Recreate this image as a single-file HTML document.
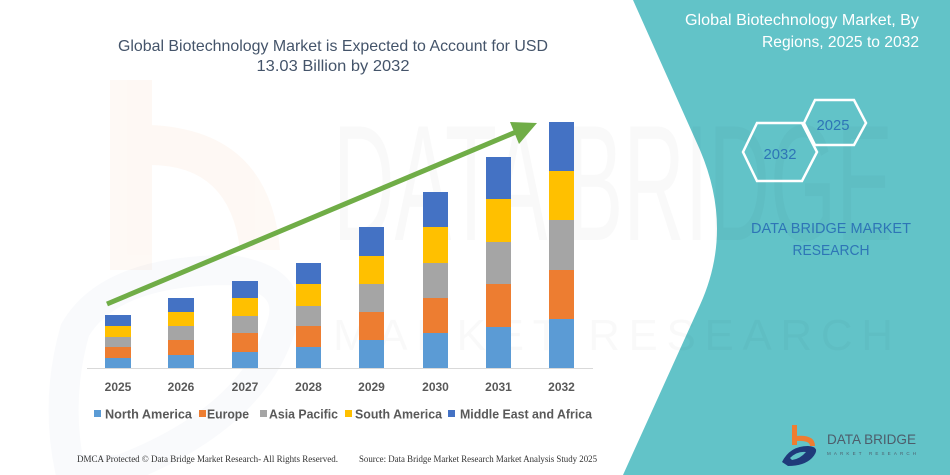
<!DOCTYPE html>
<html>
<head>
<meta charset="utf-8">
<style>
html,body{margin:0;padding:0;background:#fff;}
svg{display:block;}
text{font-family:"Liberation Sans",sans-serif;}
</style>
</head>
<body>
<svg width="950" height="475" viewBox="0 0 950 475" xmlns="http://www.w3.org/2000/svg">
  <rect x="0" y="0" width="950" height="475" fill="#ffffff"/>

  <!-- faint watermark logo (orange b + blue swoosh) -->
  <g opacity="0.05">
    <rect x="110" y="80" width="42" height="190" fill="#f08a3a"/>
    <path d="M150,125 Q270,130 280,250 L240,250 Q230,165 150,165 Z" fill="#f08a3a"/>
  </g>
  <g opacity="0.035">
    <path d="M75,330 Q110,270 230,270 Q300,280 280,330 Q250,420 120,470 L70,470 Q55,400 75,330 Z" fill="none" stroke="#4a78b8" stroke-width="30"/>
  </g>

  <!-- teal panel -->
  <path d="M633,0 L700,150 Q734,230 700,305 L623,475 L950,475 L950,0 Z" fill="#62c3c8"/>

  <!-- faint big watermark text -->
  <text x="333" y="240" font-size="165" fill="#000" opacity="0.02" textLength="560" lengthAdjust="spacingAndGlyphs">DATA BRIDGE</text>
  <text x="333" y="350" font-size="44" fill="#000" opacity="0.018" textLength="560" lengthAdjust="spacing">MARKET RESEARCH</text>

  <!-- main title -->
  <text x="333" y="51" font-size="16" fill="#44546a" text-anchor="middle" textLength="430" lengthAdjust="spacingAndGlyphs">Global Biotechnology Market is Expected to Account for USD</text>
  <text x="333" y="71" font-size="16" fill="#44546a" text-anchor="middle" textLength="153" lengthAdjust="spacingAndGlyphs">13.03 Billion by 2032</text>

  <!-- axis line -->
  <line x1="87" y1="368.5" x2="593" y2="368.5" stroke="#d9d9d9" stroke-width="1"/>

  <!-- bars: NA, EU, AP, SA, MEA -->
  <g>
    <rect x="105" y="358" width="26" height="10" fill="#5b9bd5"/>
    <rect x="105" y="347" width="26" height="11" fill="#ed7d31"/>
    <rect x="105" y="337" width="26" height="10" fill="#a5a5a5"/>
    <rect x="105" y="326" width="26" height="11" fill="#ffc000"/>
    <rect x="105" y="315" width="26" height="11" fill="#4472c4"/>

    <rect x="168" y="355" width="26" height="13" fill="#5b9bd5"/>
    <rect x="168" y="340" width="26" height="15" fill="#ed7d31"/>
    <rect x="168" y="326" width="26" height="14" fill="#a5a5a5"/>
    <rect x="168" y="312" width="26" height="14" fill="#ffc000"/>
    <rect x="168" y="298" width="26" height="14" fill="#4472c4"/>

    <rect x="232" y="352" width="26" height="16" fill="#5b9bd5"/>
    <rect x="232" y="333" width="26" height="19" fill="#ed7d31"/>
    <rect x="232" y="316" width="26" height="17" fill="#a5a5a5"/>
    <rect x="232" y="298" width="26" height="18" fill="#ffc000"/>
    <rect x="232" y="281" width="26" height="17" fill="#4472c4"/>

    <rect x="296" y="347" width="25" height="21" fill="#5b9bd5"/>
    <rect x="296" y="326" width="25" height="21" fill="#ed7d31"/>
    <rect x="296" y="306" width="25" height="20" fill="#a5a5a5"/>
    <rect x="296" y="284" width="25" height="22" fill="#ffc000"/>
    <rect x="296" y="263" width="25" height="21" fill="#4472c4"/>

    <rect x="359" y="340" width="25" height="28" fill="#5b9bd5"/>
    <rect x="359" y="312" width="25" height="28" fill="#ed7d31"/>
    <rect x="359" y="284" width="25" height="28" fill="#a5a5a5"/>
    <rect x="359" y="256" width="25" height="28" fill="#ffc000"/>
    <rect x="359" y="227" width="25" height="29" fill="#4472c4"/>

    <rect x="423" y="333" width="25" height="35" fill="#5b9bd5"/>
    <rect x="423" y="298" width="25" height="35" fill="#ed7d31"/>
    <rect x="423" y="263" width="25" height="35" fill="#a5a5a5"/>
    <rect x="423" y="227" width="25" height="36" fill="#ffc000"/>
    <rect x="423" y="192" width="25" height="35" fill="#4472c4"/>

    <rect x="486" y="327" width="25" height="41" fill="#5b9bd5"/>
    <rect x="486" y="284" width="25" height="43" fill="#ed7d31"/>
    <rect x="486" y="242" width="25" height="42" fill="#a5a5a5"/>
    <rect x="486" y="199" width="25" height="43" fill="#ffc000"/>
    <rect x="486" y="157" width="25" height="42" fill="#4472c4"/>

    <rect x="549" y="319" width="25" height="49" fill="#5b9bd5"/>
    <rect x="549" y="270" width="25" height="49" fill="#ed7d31"/>
    <rect x="549" y="220" width="25" height="50" fill="#a5a5a5"/>
    <rect x="549" y="171" width="25" height="49" fill="#ffc000"/>
    <rect x="549" y="122" width="25" height="49" fill="#4472c4"/>
  </g>

  <!-- green arrow -->
  <line x1="107" y1="304" x2="516" y2="132" stroke="#70ad47" stroke-width="5"/>
  <polygon points="537,123 510,122 519,144" fill="#70ad47"/>

  <!-- year labels -->
  <g font-size="12" font-weight="bold" fill="#595959" text-anchor="middle">
    <text x="118" y="391">2025</text>
    <text x="181" y="391">2026</text>
    <text x="245" y="391">2027</text>
    <text x="308.5" y="391">2028</text>
    <text x="371.5" y="391">2029</text>
    <text x="435.5" y="391">2030</text>
    <text x="498.5" y="391">2031</text>
    <text x="561.5" y="391">2032</text>
  </g>

  <!-- legend -->
  <g font-size="13" font-weight="bold" fill="#595959">
    <rect x="94" y="410" width="7" height="7" fill="#5b9bd5"/>
    <text x="105" y="418.5" textLength="87" lengthAdjust="spacingAndGlyphs">North America</text>
    <rect x="199" y="410" width="7" height="7" fill="#ed7d31"/>
    <text x="207" y="418.5" textLength="42" lengthAdjust="spacingAndGlyphs">Europe</text>
    <rect x="260" y="410" width="7" height="7" fill="#a5a5a5"/>
    <text x="269" y="418.5" textLength="69" lengthAdjust="spacingAndGlyphs">Asia Pacific</text>
    <rect x="345" y="410" width="7" height="7" fill="#ffc000"/>
    <text x="355" y="418.5" textLength="87" lengthAdjust="spacingAndGlyphs">South America</text>
    <rect x="448" y="410" width="7" height="7" fill="#4472c4"/>
    <text x="460" y="418.5" textLength="132" lengthAdjust="spacingAndGlyphs">Middle East and Africa</text>
  </g>

  <!-- footer -->
  <g font-size="9" fill="#333">
    <text x="77" y="462" style="font-family:'Liberation Serif',serif" textLength="261" lengthAdjust="spacingAndGlyphs">DMCA Protected © Data Bridge Market Research-  All Rights Reserved.</text>
    <text x="359" y="462" style="font-family:'Liberation Serif',serif" textLength="238" lengthAdjust="spacingAndGlyphs">Source: Data Bridge Market Research  Market Analysis Study 2025</text>
  </g>

  <!-- right panel title -->
  <text x="919" y="25" font-size="15.5" fill="#ffffff" text-anchor="end" textLength="234" lengthAdjust="spacingAndGlyphs">Global Biotechnology Market, By</text>
  <text x="919" y="47" font-size="15.5" fill="#ffffff" text-anchor="end" textLength="157" lengthAdjust="spacingAndGlyphs">Regions, 2025 to 2032</text>

  <!-- hexagons -->
  <polygon points="804,123 815,100 854,100 866,123 854,145 815,145" fill="none" stroke="#ffffff" stroke-width="2.5"/>
  <polygon points="743,152 757,123 802,123 817,152 802,181 757,181" fill="none" stroke="#ffffff" stroke-width="2.5"/>
  <text x="833" y="130" font-size="15" fill="#2e75b6" text-anchor="middle" textLength="33" lengthAdjust="spacingAndGlyphs">2025</text>
  <text x="780" y="159" font-size="15" fill="#2e75b6" text-anchor="middle" textLength="33" lengthAdjust="spacingAndGlyphs">2032</text>

  <!-- DBMR text -->
  <text x="831" y="233" font-size="15" fill="#2e75b6" text-anchor="middle" textLength="160" lengthAdjust="spacingAndGlyphs">DATA BRIDGE MARKET</text>
  <text x="831" y="255" font-size="15" fill="#2e75b6" text-anchor="middle" textLength="77" lengthAdjust="spacingAndGlyphs">RESEARCH</text>

  <!-- bottom logo -->
  <g>
    <rect x="792" y="425" width="5" height="20" fill="#ee7d31"/>
    <path d="M795,436 Q815,434 815,446 L810,446 Q810,440 795,441 Z" fill="#ee7d31"/>
    <path d="M782,462 Q790,446 808,446 Q822,447 812,458 Q804,466 788,466 Z" fill="#1f3a7a"/>
    <path d="M790,458 Q797,451 806,452 Q800,459 792,460 Z" fill="#62c3c8"/>
    <text x="827" y="444" font-size="14" fill="#4d5d6b" textLength="89" lengthAdjust="spacingAndGlyphs">DATA BRIDGE</text>
    <text x="827" y="455" font-size="4.5" fill="#4d5d6b" textLength="89" lengthAdjust="spacing">MARKET   RESEARCH</text>
  </g>
</svg>
</body>
</html>
